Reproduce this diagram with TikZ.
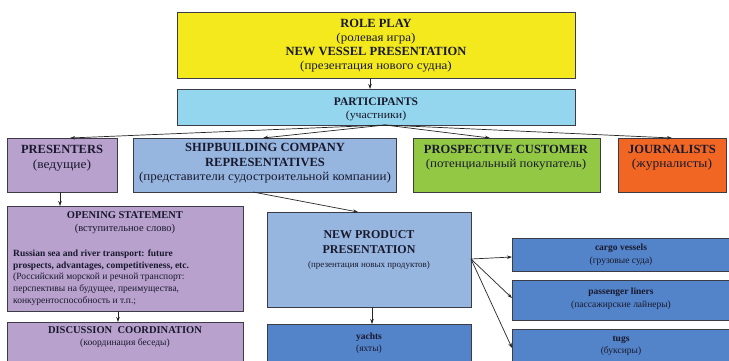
\documentclass[tikz,border=0pt]{standalone}
\usepackage{fontspec}
\setmainfont{Liberation Serif}
\newfontfamily\cyrw[FakeStretch=1.08]{Liberation Serif}
\usetikzlibrary{arrows.meta}
\definecolor{cyel}{RGB}{243,233,28}
\definecolor{cpart}{RGB}{148,214,238}
\definecolor{cpurp}{RGB}{184,161,205}
\definecolor{cship}{RGB}{150,182,224}
\definecolor{cgreen}{RGB}{146,200,68}
\definecolor{corange}{RGB}{242,102,36}
\definecolor{cdark}{RGB}{83,131,200}
\definecolor{cbord}{RGB}{60,60,70}
\definecolor{ctext}{RGB}{25,25,45}
\newcommand\fsz[2]{\fontsize{#1}{#2}\selectfont}
\begin{document}
\begin{tikzpicture}[x=1pt,y=-1pt,
  box/.style={draw=cbord, line width=1pt, anchor=north west, inner sep=0pt, outer sep=0pt},
  txt/.style={anchor=north, inner sep=0pt, align=center, text=ctext},
  arr/.style={-{Stealth[length=5pt,width=3.5pt]}, line width=0.7pt, draw=black!85}]
\clip (0,0) rectangle (729,360);
\fill[white] (0,0) rectangle (729,360);
% boxes
\node[box, fill=cyel, minimum width=398pt, minimum height=66pt] (rp) at (177,12) {};
\node[box, fill=cpart, minimum width=398pt, minimum height=36pt] (part) at (177,89) {};
\node[box, fill=cpurp, minimum width=110pt, minimum height=54pt] (pres) at (7,138) {};
\node[box, fill=cship, minimum width=263pt, minimum height=54pt] (ship) at (133,138) {};
\node[box, fill=cgreen, minimum width=187pt, minimum height=54pt] (prosp) at (413,138) {};
\node[box, fill=corange, minimum width=108pt, minimum height=54pt] (journ) at (618,138) {};
\node[box, fill=cpurp, minimum width=236pt, minimum height=105pt] (open) at (7,206) {};
\node[box, fill=cpurp, minimum width=236pt, minimum height=58pt] (disc) at (7,322) {};
\node[box, fill=cship, minimum width=204pt, minimum height=95pt] (newp) at (267,212) {};
\node[box, fill=cdark, minimum width=204pt, minimum height=56pt] (yachts) at (267,324) {};
\node[box, fill=cdark, minimum width=218pt, minimum height=33pt] (cargo) at (512,238) {};
\node[box, fill=cdark, minimum width=218pt, minimum height=40pt] (pass) at (512,280) {};
\node[box, fill=cdark, minimum width=218pt, minimum height=51pt] (tugs) at (512,329) {};
% texts
\node[txt, font=\fsz{12.5}{14}] (rpT) at (376,19)
  {\textbf{ROLE PLAY}\\{\cyrw\fsz{12}{14}(ролевая игра)}\\\textbf{NEW VESSEL PRESENTATION}\\{\cyrw\fsz{12}{14}(презентация нового судна)}};
\node[txt, font=\fsz{11.5}{13}] (partT) at (376,97.5)
  {\textbf{PARTICIPANTS}\\{\cyrw\fsz{11}{13}(участники)}};
\node[txt, font=\fsz{12.5}{15}] (presT) at (62,145.5)
  {\textbf{PRESENTERS}\\{\cyrw\fsz{12.5}{15}(ведущие)}};
\node[txt, font=\fsz{12.5}{14.5}] (shipT) at (265,143.5)
  {\textbf{SHIPBUILDING COMPANY}\\\textbf{REPRESENTATIVES}\\{\cyrw\fsz{12.1}{14.5}(представители судостроительной компании)}};
\node[txt, font=\fsz{12.5}{14}] (prospT) at (506,145.5)
  {\textbf{PROSPECTIVE CUSTOMER}\\{\cyrw\fsz{12}{14}(потенциальный покупатель)}};
\node[txt, font=\fsz{12.5}{14}] (journT) at (672,145.5)
  {\textbf{JOURNALISTS}\\{\cyrw\fsz{12.5}{14}(журналисты)}};
\node[txt, font=\fsz{10.5}{13}] (openT) at (125,211.5)
  {\textbf{OPENING STATEMENT}\\{\fsz{10.5}{13}(вступительное слово)}};
\node[anchor=north west, inner sep=0pt, align=left, text=ctext, font=\fsz{9.5}{11.7}] (openB) at (13,249.5)
  {\textbf{Russian sea and river transport: future}\\\textbf{prospects, advantages, competitiveness, etc.}\\(Российский морской и речной транспорт:\\перспективы на будущее, преимущества,\\конкурентоспособность и т.п.;};
\node[txt, font=\fsz{10.5}{12.5}] (discT) at (125,326)
  {\textbf{DISCUSSION\ \ COORDINATION}\\{\fsz{9.5}{12.5}(координация беседы)}};
\node[txt, font=\fsz{12}{14.5}] (newpT) at (369,230.5)
  {\textbf{NEW PRODUCT}\\\textbf{PRESENTATION}\\{\fsz{9}{14.5}(презентация новых продуктов)}};
\node[txt, font=\fsz{9.5}{12}] (yachtsT) at (369,333)
  {\textbf{yachts}\\(яхты)};
\node[txt, font=\fsz{9.5}{13}] (cargoT) at (621,244)
  {\textbf{cargo vessels}\\(грузовые суда)};
\node[txt, font=\fsz{9.5}{12.5}] (passT) at (621,288)
  {\textbf{passenger liners}\\(пассажирские лайнеры)};
\node[txt, font=\fsz{9.5}{12}] (tugsT) at (621,336)
  {\textbf{tugs}\\(буксиры)};
% connectors
\draw[arr] ([xshift=193pt]rp.south west) -- ([xshift=193pt]part.north west);
\coordinate (pf) at ([xshift=9pt]part.south);
\draw[arr] (pf) -- ([xshift=63pt]pres.north west);
\draw[arr] (pf) -- ([xshift=130pt]ship.north west);
\draw[arr] (pf) -- ([xshift=77pt]prosp.north west);
\draw[arr] (pf) -- ([xshift=54pt]journ.north west);
\draw[arr] ([xshift=53pt]pres.south west) -- ([xshift=53pt]open.north west);
\draw[arr] ([xshift=111pt]open.south west) -- ([xshift=111pt]disc.north west);
\draw[arr] ([xshift=120pt]ship.south west) -- ([xshift=91pt]newp.north west);
\draw[arr] ([xshift=105pt]newp.south west) -- ([xshift=105pt]yachts.north west);
\coordinate (nf) at ([yshift=-47pt]newp.north east);
\draw[arr] (nf) -- ([yshift=-19pt]cargo.north west);
\draw[arr] (nf) -- ([yshift=-18pt]pass.north west);
\draw[arr] (nf) -- ([yshift=-19pt]tugs.north west);
\end{tikzpicture}
\end{document}
